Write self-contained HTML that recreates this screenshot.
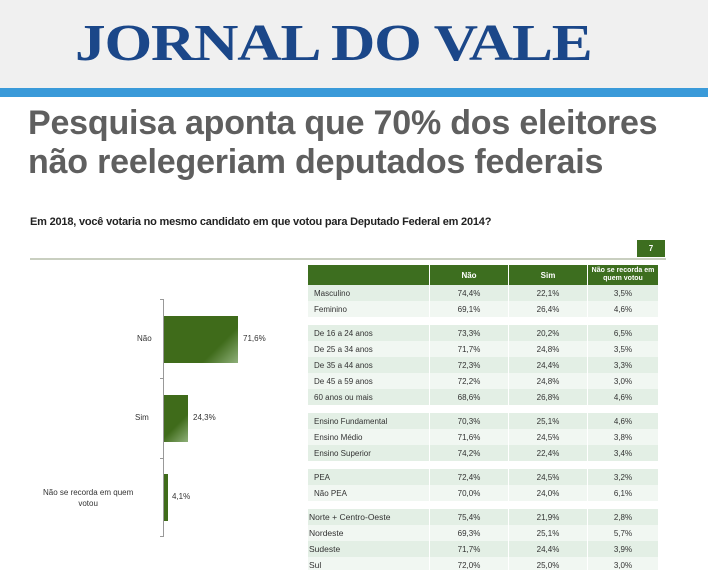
<!DOCTYPE html>
<html><head><meta charset="utf-8"><style>
body{margin:0;width:708px;height:583px;overflow:hidden;background:#fff;font-family:"Liberation Sans",sans-serif;position:relative}
.a{position:absolute}
.hdr{left:0;top:0;width:708px;height:88px;background:#f0f0f0}
.bar{left:0;top:88px;width:708px;height:9px;background:#3a9ad9}
.logo{left:75px;top:14px;font-family:"Liberation Serif",serif;font-weight:bold;font-size:52px;color:#1b4789;white-space:nowrap;transform-origin:0 0;transform:scaleX(1.18);letter-spacing:-1px}
.h1{left:28px;top:104px;font-size:34px;font-weight:bold;color:#5f5f5f;line-height:39px;white-space:nowrap;letter-spacing:-0.2px}
.q{left:30px;top:216px;font-size:11px;font-weight:bold;color:#222;white-space:nowrap;letter-spacing:-0.2px}
.sm{font-size:8px;color:#333;white-space:nowrap}
table{border-collapse:collapse;font-size:8px;color:#333}
td{height:16px;padding:0;text-align:center;border-left:1px solid #fff}
td:first-child{text-align:left;padding-left:6px;border-left:none}
tr.d td{background:#e3efe5}
tr.l td{background:#f1f7f2}
tr.s td{height:8px;background:#fff}
</style></head><body>
<div class="a hdr"></div><div class="a bar"></div>
<div class="a logo">JORNAL DO VALE</div>
<div class="a h1">Pesquisa aponta que 70% dos eleitores<br>não reelegeriam deputados federais</div>
<div class="a q">Em 2018, você votaria no mesmo candidato em que votou para Deputado Federal em 2014?</div>
<div class="a" style="left:637px;top:240px;width:28px;height:17px;background:#3d6e1f;color:#fff;font-size:8px;font-weight:bold;text-align:center;line-height:17px">7</div>
<div class="a" style="left:30px;top:258px;width:636px;height:2px;background:#c9cfc0"></div>
<div class="a" style="left:163px;top:299px;width:1px;height:238px;background:#999"></div>
<div class="a" style="left:160px;top:299px;width:3px;height:1px;background:#999"></div>
<div class="a" style="left:160px;top:378px;width:3px;height:1px;background:#999"></div>
<div class="a" style="left:160px;top:458px;width:3px;height:1px;background:#999"></div>
<div class="a" style="left:160px;top:536px;width:3px;height:1px;background:#999"></div>
<div class="a" style="left:164px;top:316px;width:74px;height:47px;background:linear-gradient(135deg,#3f6b1a 70%,#8fb07a)"></div>
<div class="a" style="left:164px;top:395px;width:24px;height:47px;background:linear-gradient(135deg,#3f6b1a 60%,#8fb07a)"></div>
<div class="a" style="left:164px;top:474px;width:4px;height:47px;background:#3f6b1a"></div>
<div class="a sm" style="left:137px;top:334px">Não</div>
<div class="a sm" style="left:243px;top:334px">71,6%</div>
<div class="a sm" style="left:135px;top:413px">Sim</div>
<div class="a sm" style="left:193px;top:413px">24,3%</div>
<div class="a sm" style="left:43px;top:487px;text-align:center;line-height:11px">Não se recorda em quem<br>votou</div>
<div class="a sm" style="left:172px;top:492px">4,1%</div>
<table class="a" style="left:308px;top:265px;width:350px">
<tr style="background:#3d6e1f;color:#fff;font-weight:bold"><td style="width:115px;height:20px;background:#3d6e1f"></td><td style="width:78px;background:#3d6e1f">Não</td><td style="width:78px;background:#3d6e1f">Sim</td><td style="background:#3d6e1f;font-size:7px;line-height:8px">Não se recorda em<br>quem votou</td></tr>
<tr class="d"><td>Masculino</td><td>74,4%</td><td>22,1%</td><td>3,5%</td></tr>
<tr class="l"><td>Feminino</td><td>69,1%</td><td>26,4%</td><td>4,6%</td></tr>
<tr class="s"><td></td><td></td><td></td><td></td></tr>
<tr class="d"><td>De 16 a 24 anos</td><td>73,3%</td><td>20,2%</td><td>6,5%</td></tr>
<tr class="l"><td>De 25 a 34 anos</td><td>71,7%</td><td>24,8%</td><td>3,5%</td></tr>
<tr class="d"><td>De 35 a 44 anos</td><td>72,3%</td><td>24,4%</td><td>3,3%</td></tr>
<tr class="l"><td>De 45 a 59 anos</td><td>72,2%</td><td>24,8%</td><td>3,0%</td></tr>
<tr class="d"><td>60 anos ou mais</td><td>68,6%</td><td>26,8%</td><td>4,6%</td></tr>
<tr class="s"><td></td><td></td><td></td><td></td></tr>
<tr class="d"><td>Ensino Fundamental</td><td>70,3%</td><td>25,1%</td><td>4,6%</td></tr>
<tr class="l"><td>Ensino Médio</td><td>71,6%</td><td>24,5%</td><td>3,8%</td></tr>
<tr class="d"><td>Ensino Superior</td><td>74,2%</td><td>22,4%</td><td>3,4%</td></tr>
<tr class="s"><td></td><td></td><td></td><td></td></tr>
<tr class="d"><td>PEA</td><td>72,4%</td><td>24,5%</td><td>3,2%</td></tr>
<tr class="l"><td>Não PEA</td><td>70,0%</td><td>24,0%</td><td>6,1%</td></tr>
<tr class="s"><td></td><td></td><td></td><td></td></tr>
<tr class="d"><td style="padding-left:1px;font-size:8.5px">Norte + Centro-Oeste</td><td>75,4%</td><td>21,9%</td><td>2,8%</td></tr>
<tr class="l"><td style="padding-left:1px;font-size:8.5px">Nordeste</td><td>69,3%</td><td>25,1%</td><td>5,7%</td></tr>
<tr class="d"><td style="padding-left:1px;font-size:8.5px">Sudeste</td><td>71,7%</td><td>24,4%</td><td>3,9%</td></tr>
<tr class="l"><td style="padding-left:1px;font-size:8.5px">Sul</td><td>72,0%</td><td>25,0%</td><td>3,0%</td></tr>
</table>
<div class="a" style="left:0;top:570px;width:708px;height:13px;background:#fff"></div>
</body></html>
